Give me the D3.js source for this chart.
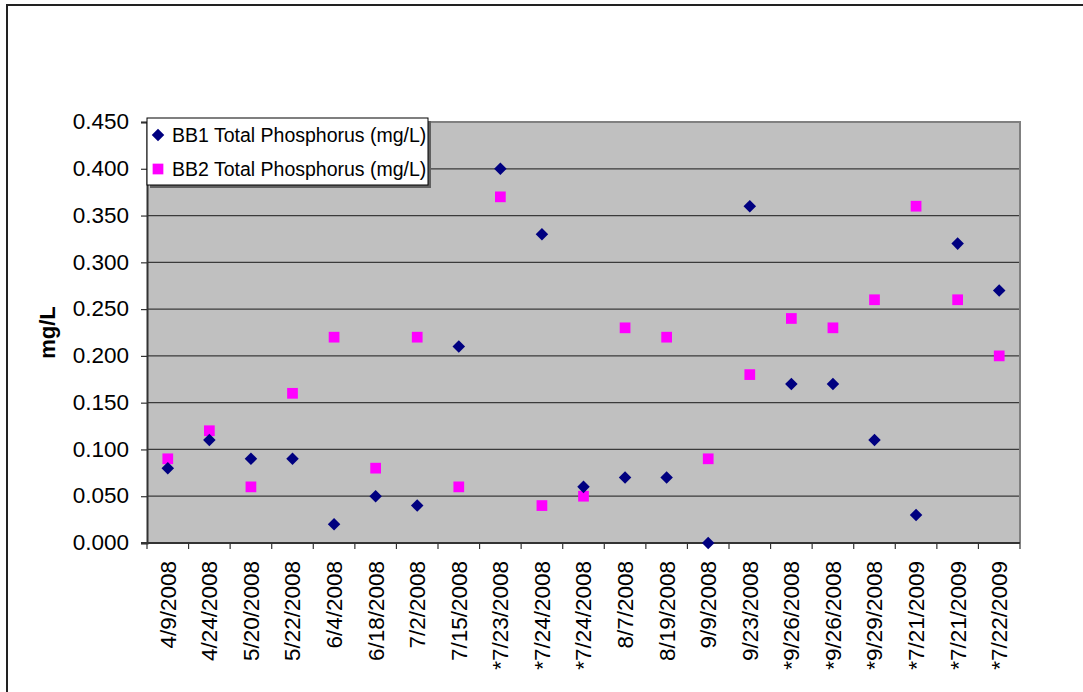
<!DOCTYPE html>
<html>
<head>
<meta charset="utf-8">
<script src="https://cdn.jsdelivr.net/npm/d3@7"></script>
<style>
  html, body { margin: 0; padding: 0; background: #fff; }
  svg { display: block; font-family: "Liberation Sans", Arial, sans-serif; }
</style>
</head>
<body>
<svg id="chart" width="1083" height="692"></svg>
<script>
// Sampling dates (an asterisk marks a special sampling event)
const dates = ["4/9/2008", "4/24/2008", "5/20/2008", "5/22/2008", "6/4/2008", "6/18/2008",
  "7/2/2008", "7/15/2008", "*7/23/2008", "*7/24/2008", "*7/24/2008", "8/7/2008",
  "8/19/2008", "9/9/2008", "9/23/2008", "*9/26/2008", "*9/26/2008", "*9/29/2008",
  "*7/21/2009", "*7/21/2009", "*7/22/2009"];

// Total phosphorus, mg/L
const bb1 = [0.08, 0.11, 0.09, 0.09, 0.02, 0.05, 0.04, 0.21, 0.40, 0.33, 0.06, 0.07,
  0.07, 0.00, 0.36, 0.17, 0.17, 0.11, 0.03, 0.32, 0.27];
const bb2 = [0.09, 0.12, 0.06, 0.16, 0.22, 0.08, 0.22, 0.06, 0.37, 0.04, 0.05, 0.23,
  0.22, 0.09, 0.18, 0.24, 0.23, 0.26, 0.36, 0.26, 0.20];

const seriesNames = ["BB1 Total Phosphorus (mg/L)", "BB2 Total Phosphorus (mg/L)"];
const yTicks = [0, 0.05, 0.10, 0.15, 0.20, 0.25, 0.30, 0.35, 0.40, 0.45];
const yTitle = "mg/L";

const FONT = '"Liberation Sans", Arial, sans-serif';
const svg = d3.select("#chart");
const plot = { left: 147, right: 1020, top: 122, bottom: 543 };

// outer chart frame
svg.append("rect")
  .attr("x", 7).attr("y", 5).attr("width", 1100).attr("height", 720)
  .attr("fill", "#fff").attr("stroke", "#222").attr("stroke-width", 2);

const x = d3.scaleBand()
  .domain(d3.range(dates.length))
  .range([plot.left, plot.right])
  .padding(0);
const y = d3.scaleLinear().domain([0, 0.45]).range([plot.bottom, plot.top]);

// plot background
svg.append("rect")
  .attr("x", plot.left).attr("y", plot.top)
  .attr("width", plot.right - plot.left).attr("height", plot.bottom - plot.top)
  .attr("fill", "#c0c0c0");

// horizontal gridlines
svg.append("g").selectAll("line")
  .data(yTicks.filter(d => d > 0 && d < 0.45))
  .join("line")
  .attr("x1", plot.left).attr("x2", plot.right)
  .attr("y1", d => y(d)).attr("y2", d => y(d))
  .attr("stroke", "#3a3a3a").attr("stroke-width", 1.2);

// top and right plot border
svg.append("path")
  .attr("d", `M${plot.left},${plot.top}H${plot.right}V${plot.bottom}`)
  .attr("fill", "none").attr("stroke", "#808080").attr("stroke-width", 2);

// y axis
const yAxis = d3.axisLeft(y).tickValues(yTicks).tickFormat(d3.format(".3f")).tickSize(6).tickPadding(12);
const gy = svg.append("g").attr("transform", `translate(${plot.left},0)`).call(yAxis)
  .attr("font-family", FONT);
gy.select(".domain").attr("stroke", "#333").attr("stroke-width", 2);
gy.selectAll(".tick line").attr("stroke", "#333").attr("stroke-width", 1.2);
gy.selectAll(".tick text").attr("font-size", 22.5).attr("fill", "#000").attr("dy", "0.3em");

// x axis: ticks sit on category boundaries
const xBounds = d3.range(dates.length + 1).map(i => plot.left + i * x.bandwidth());
const gx = svg.append("g").attr("font-family", FONT);
gx.selectAll("line.tick")
  .data(xBounds)
  .join("line")
  .attr("class", "tick")
  .attr("x1", d => d).attr("x2", d => d)
  .attr("y1", plot.bottom).attr("y2", plot.bottom + 6)
  .attr("stroke", "#333").attr("stroke-width", 1.2);
gx.append("line")
  .attr("x1", plot.left - 6).attr("x2", plot.right)
  .attr("y1", plot.bottom).attr("y2", plot.bottom)
  .attr("stroke", "#333").attr("stroke-width", 2);
gx.selectAll("text")
  .data(dates)
  .join("text")
  .attr("transform", (d, i) => `translate(${x(i) + x.bandwidth() / 2},${plot.bottom + 18}) rotate(-90)`)
  .attr("text-anchor", "end")
  .attr("dy", "0.35em")
  .attr("font-size", 22.5)
  .attr("fill", "#000")
  .text(d => d);

// y title
svg.append("text")
  .attr("transform", `translate(47,${(plot.top + plot.bottom) / 2}) rotate(-90)`)
  .attr("text-anchor", "middle")
  .attr("dy", "0.35em")
  .attr("font-family", FONT)
  .attr("font-size", 22)
  .attr("font-weight", "bold")
  .text(yTitle);

// markers
const diamond = d3.symbol().type(d3.symbolDiamond2).size(100);
const square = d3.symbol().type(d3.symbolSquare).size(115);

svg.append("g").selectAll("path")
  .data(bb2)
  .join("path")
  .attr("transform", (d, i) => `translate(${x(i) + x.bandwidth() / 2},${y(d)})`)
  .attr("d", square)
  .attr("fill", "#ff00ff");

svg.append("g").selectAll("path")
  .data(bb1)
  .join("path")
  .attr("transform", (d, i) => `translate(${x(i) + x.bandwidth() / 2},${y(d)})`)
  .attr("d", diamond)
  .attr("fill", "#000080");

// legend
const lg = svg.append("g").attr("font-family", FONT);
const lgBox = { x: 147, y: 118, w: 281, h: 67 };
lg.append("rect")
  .attr("x", lgBox.x + 3).attr("y", lgBox.y + 3).attr("width", lgBox.w).attr("height", lgBox.h)
  .attr("fill", "#606060");
lg.append("rect")
  .attr("x", lgBox.x).attr("y", lgBox.y).attr("width", lgBox.w).attr("height", lgBox.h)
  .attr("fill", "#fff").attr("stroke", "#000").attr("stroke-width", 1);
const lgSymbols = [diamond, square];
const lgColors = ["#000080", "#ff00ff"];
seriesNames.forEach((name, i) => {
  const cy = lgBox.y + 17 + i * 34;
  lg.append("path")
    .attr("transform", `translate(${lgBox.x + 11},${cy})`)
    .attr("d", lgSymbols[i])
    .attr("fill", lgColors[i]);
  lg.append("text")
    .attr("x", lgBox.x + 25).attr("y", cy)
    .attr("dy", "0.35em")
    .attr("font-size", 19.5)
    .attr("fill", "#000")
    .text(name);
});
</script>
</body>
</html>
